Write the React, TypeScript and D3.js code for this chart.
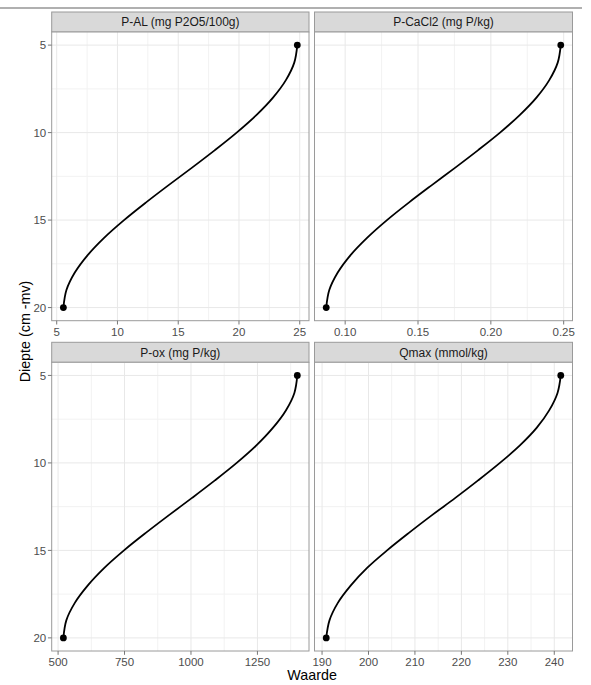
import React from "react";
import * as d3 from "d3";

const depths = [5, 6, 7, 8, 9, 10, 11, 12, 13, 14, 15, 16, 17, 18, 19, 20];

const facetTitles = [
  "P-AL (mg P2O5/100g)",
  "P-CaCl2 (mg P/kg)",
  "P-ox (mg P/kg)",
  "Qmax (mmol/kg)",
];

const pAL = [24.8, 24.55, 23.86, 22.8, 21.43, 19.81, 18.02, 16.14, 14.21, 12.33, 10.54, 8.92, 7.55, 6.49, 5.8, 5.55];
const pCaCl2 = [0.248, 0.2459, 0.2401, 0.2313, 0.2198, 0.2063, 0.1913, 0.1756, 0.1595, 0.1437, 0.1287, 0.1152, 0.1037, 0.0949, 0.0891, 0.087];
const pOx = [1400, 1389, 1357, 1308, 1246, 1172, 1090, 1004, 916, 830, 748, 674, 612, 563, 531, 520];
const qmax = [241.4, 240.7, 238.9, 236.2, 232.6, 228.3, 223.6, 218.7, 213.6, 208.7, 204.0, 199.7, 196.2, 193.4, 191.6, 190.9];

const seriesValues = [pAL, pCaCl2, pOx, qmax];

const xTicksList = [
  [5, 10, 15, 20, 25],
  [0.1, 0.15, 0.2, 0.25],
  [500, 750, 1000, 1250],
  [190, 200, 210, 220, 230, 240],
];
const xMinorList = [
  [7.5, 12.5, 17.5, 22.5],
  [0.125, 0.175, 0.225],
  [625, 875, 1125, 1375],
  [195, 205, 215, 225, 235],
];
const xTickLabels = [
  ["5", "10", "15", "20", "25"],
  ["0.10", "0.15", "0.20", "0.25"],
  ["500", "750", "1000", "1250"],
  ["190", "200", "210", "220", "230", "240"],
];
const yTicks = [5, 10, 15, 20];
const yMinor = [7.5, 12.5, 17.5];

const xLabel = "Waarde";
const yLabel = "Diepte (cm -mv)";

const FONT = "'Liberation Sans', Arial, Helvetica, sans-serif";

const cols = [
  [51.7, 309],
  [314.5, 572.5],
];
const rows = [
  [32, 320.7],
  [362.3, 651],
];
const stripH = 20;

export default function App() {
  const panels = facetTitles.map((title, i) => {
    const col = cols[i % 2];
    const row = rows[Math.floor(i / 2)];
    const vals = seriesValues[i];
    const mn = d3.min(vals) as number;
    const mx = d3.max(vals) as number;
    const pad = (mx - mn) * 0.05;
    const x = d3.scaleLinear().domain([mn - pad, mx + pad]).range(col);
    const y = d3.scaleLinear().domain([4.25, 20.75]).range(row);
    const pts = depths.map((d, k) => [vals[k], d] as [number, number]);
    const line = d3
      .line<[number, number]>()
      .x((p) => x(p[0]))
      .y((p) => y(p[1]))
      .curve(d3.curveCatmullRom.alpha(0.5));
    const ends = [pts[0], pts[pts.length - 1]];
    return (
      <g key={title}>
        <rect
          x={col[0]}
          y={row[0] - stripH}
          width={col[1] - col[0]}
          height={stripH}
          fill="#D9D9D9"
          stroke="#9a9a9a"
          strokeWidth={1}
        />
        <text
          x={(col[0] + col[1]) / 2}
          y={row[0] - stripH / 2}
          dy="0.36em"
          textAnchor="middle"
          fontFamily={FONT}
          fontSize={12}
          fill="#1A1A1A"
        >
          {title}
        </text>
        <rect x={col[0]} y={row[0]} width={col[1] - col[0]} height={row[1] - row[0]} fill="#fff" />
        {xMinorList[i].map((t) => (
          <line key={"xm" + t} x1={x(t)} x2={x(t)} y1={row[0]} y2={row[1]} stroke="#F2F2F2" strokeWidth={1} />
        ))}
        {yMinor.map((t) => (
          <line key={"ym" + t} x1={col[0]} x2={col[1]} y1={y(t)} y2={y(t)} stroke="#F2F2F2" strokeWidth={1} />
        ))}
        {xTicksList[i].map((t) => (
          <line key={"xg" + t} x1={x(t)} x2={x(t)} y1={row[0]} y2={row[1]} stroke="#E8E8E8" strokeWidth={1} />
        ))}
        {yTicks.map((t) => (
          <line key={"yg" + t} x1={col[0]} x2={col[1]} y1={y(t)} y2={y(t)} stroke="#E8E8E8" strokeWidth={1} />
        ))}
        <path d={line(pts) || ""} fill="none" stroke="#000" strokeWidth={1.8} />
        {ends.map((p, k) => (
          <circle key={"pt" + k} cx={x(p[0])} cy={y(p[1])} r={3.4} fill="#000" />
        ))}
        <rect
          x={col[0]}
          y={row[0]}
          width={col[1] - col[0]}
          height={row[1] - row[0]}
          fill="none"
          stroke="#9a9a9a"
          strokeWidth={1}
        />
        {xTicksList[i].map((t, k) => (
          <g key={"xt" + t}>
            <line x1={x(t)} x2={x(t)} y1={row[1]} y2={row[1] + 3.8} stroke="#777" strokeWidth={1} />
            <text
              x={x(t)}
              y={row[1] + 14.8}
              textAnchor="middle"
              fontFamily={FONT}
              fontSize={11.5}
              fill="#4D4D4D"
            >
              {xTickLabels[i][k]}
            </text>
          </g>
        ))}
        {i % 2 === 0 &&
          yTicks.map((t) => (
            <g key={"yt" + t}>
              <line x1={col[0] - 3.8} x2={col[0]} y1={y(t)} y2={y(t)} stroke="#777" strokeWidth={1} />
              <text
                x={col[0] - 5.5}
                y={y(t)}
                dy="0.36em"
                textAnchor="end"
                fontFamily={FONT}
                fontSize={11.5}
                fill="#4D4D4D"
              >
                {t}
              </text>
            </g>
          ))}
      </g>
    );
  });

  return (
    <svg
      width={591}
      height={685}
      style={{ position: "absolute", left: 0, top: 0, background: "#fff" }}
    >
      <rect x={0} y={0} width={591} height={685} fill="#fff" />
      <line x1={0} x2={582} y1={8} y2={8} stroke="#B0B0B0" strokeWidth={2} />
      {panels}
      <text
        x={(cols[0][0] + cols[1][1]) / 2}
        y={680}
        textAnchor="middle"
        fontFamily={FONT}
        fontSize={14.3}
        fill="#000"
      >
        {xLabel}
      </text>
      <text
        transform={`translate(30,${(rows[0][0] - stripH + rows[1][1]) / 2}) rotate(-90)`}
        textAnchor="middle"
        fontFamily={FONT}
        fontSize={14.3}
        fill="#000"
      >
        {yLabel}
      </text>
    </svg>
  );
}
